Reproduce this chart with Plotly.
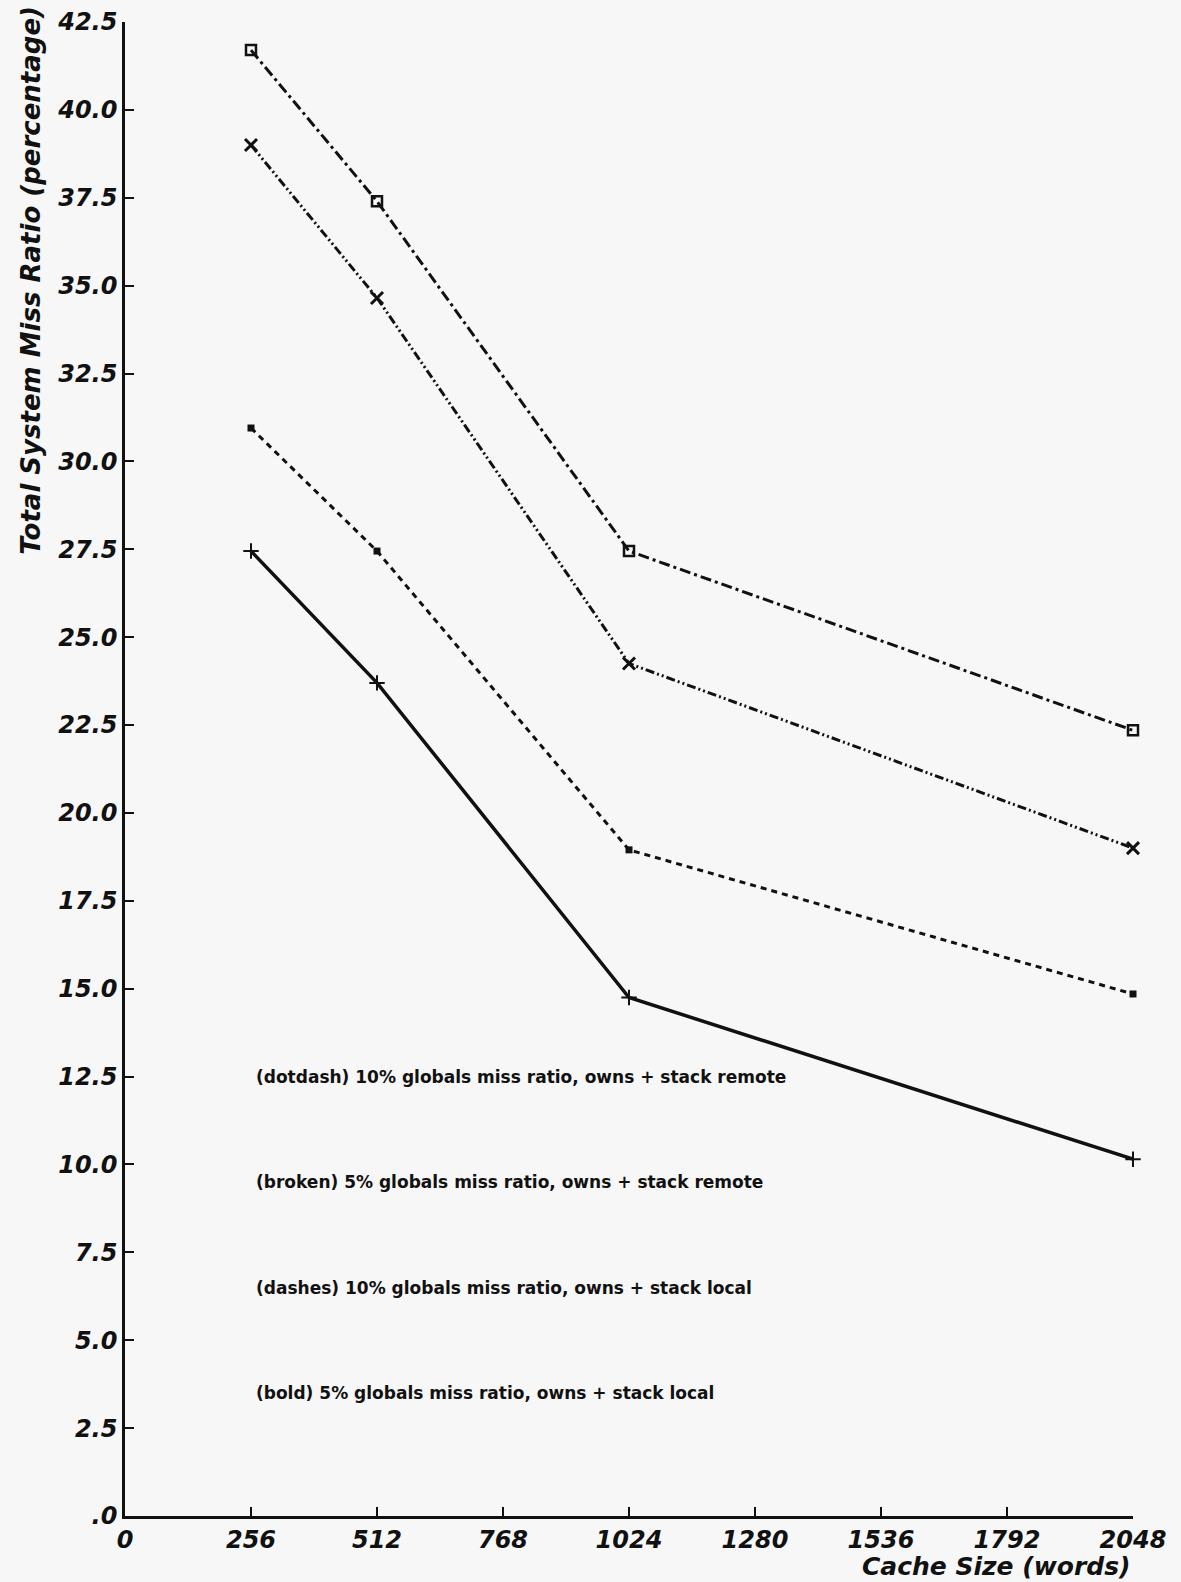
import plotly.graph_objects as go

# cache sizes (words)
cache_size = [256, 512, 1024, 2048]

# total system miss ratio (percentage), one list per curve
dotdash_remote_10 = [41.7, 37.4, 27.45, 22.35]
broken_remote_5 = [39.0, 34.65, 24.25, 19.0]
dashes_local_10 = [30.95, 27.45, 18.95, 14.85]
bold_local_5 = [27.45, 23.7, 14.75, 10.15]

series_labels = [
    "(dotdash) 10% globals miss ratio, owns + stack remote",
    "(broken) 5% globals miss ratio, owns + stack remote",
    "(dashes) 10% globals miss ratio, owns + stack local",
    "(bold) 5% globals miss ratio, owns + stack local",
]

x_ticks = [0, 256, 512, 768, 1024, 1280, 1536, 1792, 2048]
y_ticks = [0, 2.5, 5, 7.5, 10, 12.5, 15, 17.5, 20, 22.5, 25, 27.5, 30, 32.5,
           35, 37.5, 40, 42.5]
y_tick_text = [".0"] + ["%.1f" % v for v in y_ticks[1:]]

INK = "#111111"
BG = "#f7f7f7"


def bold_italic(size):
    return dict(family="DejaVu Sans", size=size, color=INK, weight="bold", style="italic")


fig = go.Figure()

# ---- the four curves ----
fig.add_trace(go.Scatter(
    x=cache_size, y=dotdash_remote_10, mode="lines+markers", cliponaxis=False,
    line=dict(color=INK, width=3, dash="11px,4px,3px,4px"),
    marker=dict(symbol="square-open", size=10, color=INK, line=dict(width=2.5, color=INK)),
))
fig.add_trace(go.Scatter(
    x=cache_size, y=broken_remote_5, mode="lines+markers", cliponaxis=False,
    line=dict(color=INK, width=3, dash="9px,3px,2px,3px,2px,3px"),
    marker=dict(symbol="x-thin", size=12, color=INK, line=dict(width=3, color=INK)),
))
fig.add_trace(go.Scatter(
    x=cache_size, y=dashes_local_10, mode="lines+markers", cliponaxis=False,
    line=dict(color=INK, width=3, dash="6px,5px"),
    marker=dict(symbol="square", size=7, color=INK),
))
fig.add_trace(go.Scatter(
    x=cache_size, y=bold_local_5, mode="lines+markers", cliponaxis=False,
    line=dict(color=INK, width=3.5),
    marker=dict(symbol="cross-thin", size=11, color=INK, line=dict(width=2, color=INK)),
))

# ---- curve descriptions inside the plot ----
label_y = [12.5, 9.5, 6.5, 3.5]
for txt, yy in zip(series_labels, label_y):
    fig.add_annotation(
        x=262, y=yy, xref="x", yref="y", text=txt, showarrow=False,
        xanchor="left", yanchor="middle",
        font=dict(family="DejaVu Sans", size=17, color=INK, weight="bold"),
    )

# ---- axis titles ----
fig.add_annotation(
    x=-0.094, y=1.012, xref="paper", yref="paper", textangle=-90,
    text="Total System Miss Ratio (percentage)", showarrow=False,
    xanchor="center", yanchor="top",
    font=bold_italic(26),
)
fig.add_annotation(
    x=1.0, y=-0.0335, xref="paper", yref="paper",
    text="Cache Size (words)", showarrow=False,
    xanchor="right", yanchor="middle",
    font=bold_italic(25),
)

fig.update_layout(
    width=1181, height=1582,
    margin=dict(l=125, r=48, t=22, b=66, autoexpand=False),
    paper_bgcolor=BG, plot_bgcolor=BG,
    showlegend=False,
    xaxis=dict(
        range=[0, 2048], tickvals=x_ticks, ticktext=[str(v) for v in x_ticks],
        showgrid=False, zeroline=False, showline=True, linecolor=INK, linewidth=2.5,
        ticks="inside", ticklen=9, tickwidth=2, tickcolor=INK,
        tickfont=bold_italic(24), automargin=False,
    ),
    yaxis=dict(
        range=[0, 42.5], tickvals=y_ticks, ticktext=y_tick_text,
        showgrid=False, zeroline=False, showline=True, linecolor=INK, linewidth=2.5,
        ticks="inside", ticklen=9, tickwidth=2, tickcolor=INK,
        tickfont=bold_italic(24), automargin=False,
    ),
)

# the page body has a default 8px margin; drop it so the figure fills the window
fig.write_html("out.html", config={"displayModeBar": False},
               post_script="document.body.style.margin='0';")
